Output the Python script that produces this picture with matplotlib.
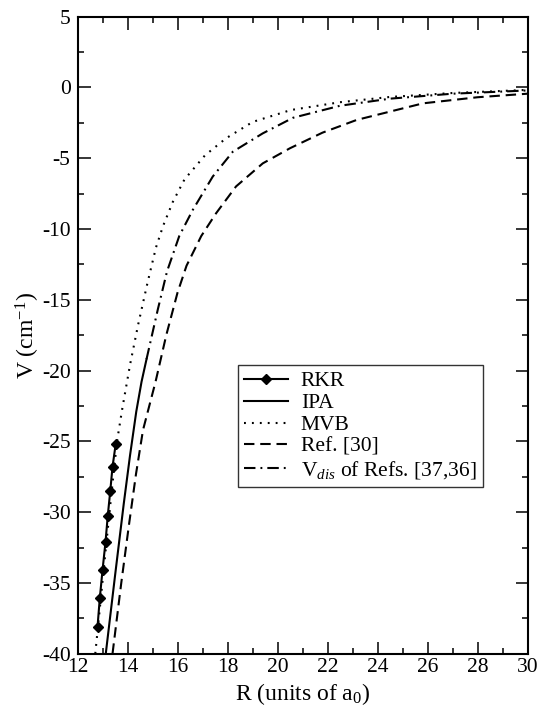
#!/usr/bin/env python3
"""
Long-range potential curves: RKR points vs. IPA, MVB, Ref. [30] and V_dis
"""

import matplotlib
matplotlib.use("Agg")
import matplotlib.pyplot as plt

plt.rcParams['font.family'] = ['Liberation Serif', 'DejaVu Serif']
plt.rcParams['mathtext.fontset'] = 'custom'
plt.rcParams['mathtext.rm'] = 'Liberation Serif'
plt.rcParams['mathtext.it'] = 'Liberation Serif:italic'
plt.rcParams['axes.unicode_minus'] = False

# RKR turning points
rkr_r = [12.80, 12.89, 13.00, 13.12, 13.21, 13.31, 13.40, 13.53]
rkr_v = [-38.1, -36.1, -34.1, -32.1, -30.25, -28.5, -26.8, -25.16]

# IPA (only the short-range part is visible; it joins V_dis further out)
ipa_r = [13.13, 13.50, 13.85, 14.10, 14.35, 14.56, 14.76]
ipa_v = [-40.0, -34.5, -29.4, -26.0, -22.9, -20.8, -19.2]

# MVB
mvb_r = [12.71, 12.92, 13.13, 13.35, 13.58, 13.78, 14.10, 14.42, 14.80, 15.14,
         15.42, 15.81, 16.28, 17.10, 17.94, 19.01, 20.54, 22.5, 24.5, 27.0, 30.0]
mvb_v = [-40.0, -36.3, -32.6, -28.8, -25.0, -22.8, -19.6, -16.8, -13.8, -11.3,
         -9.8, -8.1, -6.5, -4.8, -3.6, -2.44, -1.6, -1.05, -0.68, -0.4, -0.18]

# Ref. [30]
ref30_r = [13.40, 13.75, 14.05, 14.34, 14.62, 15.12, 15.55, 16.00, 16.36, 16.95,
           17.54, 18.34, 19.41, 20.50, 21.80, 23.17, 25.82, 28.0, 30.0]
ref30_v = [-40.0, -35.0, -31.0, -27.3, -24.2, -20.8, -17.5, -14.5, -12.6, -10.5,
           -8.9, -7.0, -5.37, -4.3, -3.2, -2.3, -1.13, -0.7, -0.45]

# V_dis of Refs. [37,36]
vdis_r = [14.76, 15.21, 15.58, 16.07, 16.61, 17.41, 18.21, 19.41, 20.62,
          22.5, 24.5, 27.0, 30.0]
vdis_v = [-19.2, -15.7, -13.0, -10.5, -8.66, -6.3, -4.55, -3.25, -2.15,
          -1.3, -0.8, -0.45, -0.22]

fig = plt.figure(figsize=(5.44, 7.19), dpi=100)
ax = fig.add_axes([0.1425, 0.0908, 0.8272, 0.8862])

lw = 1.5
ax.plot(rkr_r, rkr_v, color='black', lw=lw, marker='D', ms=4.8, label='RKR')
ax.plot(ipa_r, ipa_v, color='black', lw=lw, label='IPA')
ax.plot(mvb_r, mvb_v, color='black', lw=lw, dashes=(0.9, 2.9), label='MVB')
ax.plot(ref30_r, ref30_v, color='black', lw=lw, dashes=(5.0, 2.8), label='Ref. [30]')
ax.plot(vdis_r, vdis_v, color='black', lw=lw, dashes=(5.5, 2.4, 0.9, 2.4),
        label=r'V$_{dis}$ of Refs. [37,36]')

ax.set_xlim(12, 30)
ax.set_ylim(-40, 5)
ax.set_xticks(range(12, 31, 2))
ax.set_xticks(range(12, 31, 1), minor=True)
ax.set_yticks(range(-40, 6, 5))
ax.set_yticks([-40 + 2.5 * i for i in range(19)], minor=True)

ax.tick_params(which='both', direction='in', top=True, right=True,
               labelsize=15.5, width=1.1)
ax.tick_params(which='major', length=9)
ax.tick_params(axis='x', which='major', pad=3)
ax.tick_params(axis='y', which='major', pad=5)
ax.tick_params(which='minor', length=4.5)
for s in ax.spines.values():
    s.set_linewidth(1.5)

ax.set_xlabel(r'R (units of a$_0$)', fontsize=17, labelpad=3)
ax.set_ylabel(r'V (cm$^{-1}$)', fontsize=17, labelpad=0)

leg = ax.legend(loc='upper left', bbox_to_anchor=(0.4375, 0.4924),
                bbox_transform=fig.transFigure, fontsize=15.5, frameon=True,
                fancybox=False, handlelength=2.0, handletextpad=0.62,
                labelspacing=0.08, borderpad=0.3, borderaxespad=0)
leg.get_frame().set_edgecolor('black')
leg.get_frame().set_linewidth(1.0)

fig.savefig('out.png', dpi=100)
